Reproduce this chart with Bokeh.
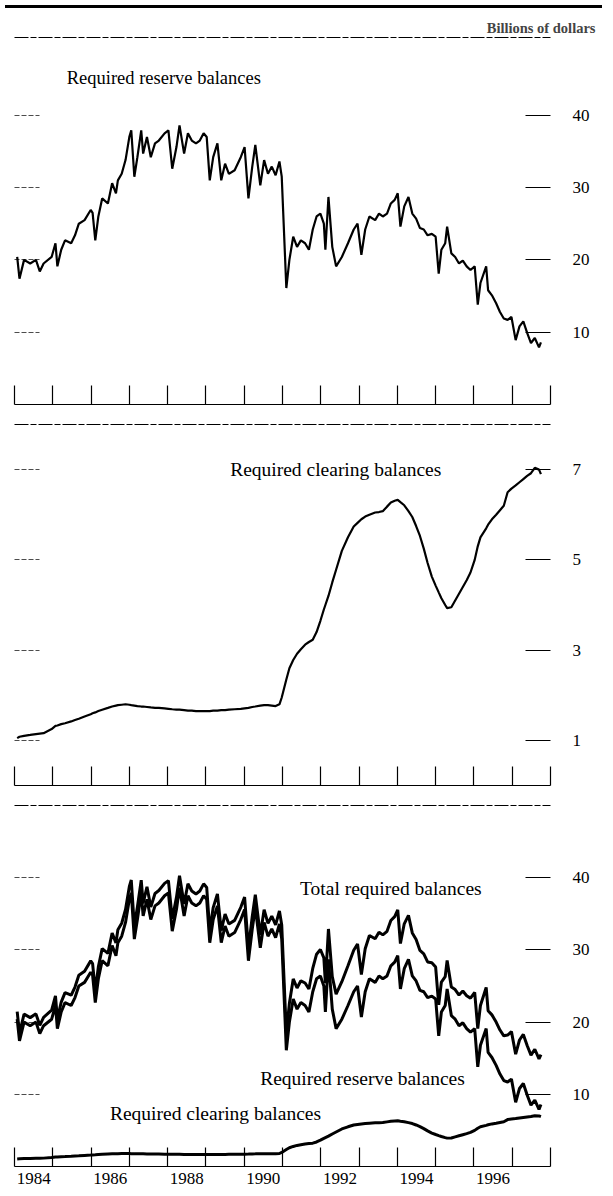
from bokeh.plotting import figure
from bokeh.models import FixedTicker, LinearAxis, Range1d, Div, Label
from bokeh.layouts import column
from bokeh.embed import file_html
from bokeh.resources import INLINE
import numpy as np

# ---------------- data (billions of dollars) ----------------
DATES = [
    1984.07, 1984.13, 1984.25, 1984.41, 1984.56, 1984.66, 1984.76, 1984.97,
    1985.07, 1985.12, 1985.22, 1985.32, 1985.48, 1985.58, 1985.68, 1985.83, 1985.99,
    1986.04, 1986.11, 1986.19, 1986.29, 1986.44, 1986.55, 1986.65, 1986.70, 1986.80, 1986.90,
    1987.00, 1987.05, 1987.13, 1987.21, 1987.31, 1987.36, 1987.46, 1987.56, 1987.67, 1987.77, 1987.92,
    1988.02, 1988.12, 1988.23, 1988.31, 1988.43, 1988.53, 1988.63, 1988.74, 1988.84, 1988.94,
    1989.02, 1989.10, 1989.19, 1989.30, 1989.40, 1989.50, 1989.60, 1989.75, 1989.91,
    1990.01, 1990.11, 1990.21, 1990.29, 1990.42, 1990.52, 1990.62, 1990.72, 1990.82, 1990.92, 1990.98,
    1991.10, 1991.18, 1991.28, 1991.38, 1991.48, 1991.59, 1991.69, 1991.79, 1991.89, 1991.99,
    1992.08, 1992.12, 1992.20, 1992.30, 1992.40, 1992.55, 1992.71, 1992.86, 1992.96,
    1993.06, 1993.16, 1993.27, 1993.42, 1993.52, 1993.62, 1993.73, 1993.83, 1993.93,
    1994.01, 1994.08, 1994.18, 1994.29, 1994.39, 1994.49, 1994.59, 1994.69, 1994.79, 1994.90,
    1995.00, 1995.08, 1995.15, 1995.25, 1995.30, 1995.41, 1995.51, 1995.61, 1995.71, 1995.81, 1995.91,
    1996.02, 1996.10, 1996.17, 1996.32, 1996.37, 1996.47, 1996.58, 1996.68, 1996.78, 1996.88, 1996.98,
    1997.09, 1997.19, 1997.29, 1997.39, 1997.49, 1997.59, 1997.70, 1997.75,
]
RESERVE = [
    20.4, 17.4, 20.0, 19.5, 20.0, 18.4, 19.5, 20.4,
    22.3, 19.1, 21.4, 22.7, 22.3, 23.4, 25.0, 25.5, 26.9,
    26.5, 22.7, 26.0, 28.5, 27.8, 30.6, 29.2, 31.0, 31.9, 33.8,
    37.0, 37.9, 31.5, 34.2, 37.9, 34.7, 37.0, 34.2, 36.1, 36.5, 37.5,
    37.9, 32.6, 35.6, 38.6, 34.7, 37.5, 36.5, 36.1, 36.5, 37.5,
    37.0, 31.0, 34.2, 36.1, 31.0, 33.3, 31.9, 32.4, 34.2,
    35.6, 28.5, 32.9, 35.9, 30.3, 33.8, 31.9, 32.9, 31.7, 33.6, 31.5,
    16.1, 20.0, 23.2, 21.8, 22.7, 22.3, 21.4, 24.2, 26.0, 26.4,
    25.0, 21.4, 28.7, 21.8, 19.1, 20.4, 22.3, 24.2, 25.0,
    20.7, 24.2, 26.0, 25.5, 26.4, 26.0, 26.4, 27.8, 28.3,
    29.2, 24.6, 27.4, 28.7, 26.4, 25.7, 24.4, 24.2, 23.4, 23.6,
    23.2, 18.1, 21.4, 22.3, 24.6, 20.9, 20.4, 19.5, 19.9, 19.1, 18.6,
    19.1, 13.8, 16.8, 19.1, 15.8, 15.1, 14.0, 12.8, 11.9, 11.7, 12.1,
    8.9, 10.8, 11.5, 9.9, 8.5, 9.2, 7.9, 8.6,
]
CLEARING = [
    1.05, 1.08, 1.10, 1.12, 1.14, 1.15, 1.16, 1.25,
    1.32, 1.33, 1.36, 1.38, 1.42, 1.45, 1.48, 1.53, 1.58,
    1.60, 1.62, 1.65, 1.68, 1.72, 1.75, 1.77, 1.78, 1.79, 1.80,
    1.79, 1.78, 1.77, 1.76, 1.75, 1.75, 1.74, 1.73, 1.72, 1.72, 1.71,
    1.70, 1.69, 1.68, 1.68, 1.67, 1.66, 1.66, 1.65, 1.65, 1.65,
    1.65, 1.65, 1.66, 1.66, 1.67, 1.67, 1.68, 1.69, 1.70,
    1.71, 1.72, 1.74, 1.75, 1.77, 1.78, 1.78, 1.77, 1.76, 1.80, 1.95,
    2.35, 2.60, 2.78, 2.92, 3.02, 3.12, 3.18, 3.23, 3.40, 3.65,
    3.90, 4.00, 4.20, 4.50, 4.78, 5.20, 5.50, 5.74, 5.82,
    5.90, 5.96, 6.00, 6.05, 6.06, 6.08, 6.18, 6.27, 6.31,
    6.33, 6.28, 6.21, 6.08, 5.95, 5.75, 5.53, 5.25, 4.93, 4.63,
    4.43, 4.28, 4.15, 4.00, 3.93, 3.95, 4.10, 4.25, 4.40, 4.55, 4.72,
    5.00, 5.30, 5.50, 5.70, 5.78, 5.90, 6.00, 6.10, 6.20, 6.50, 6.58,
    6.65, 6.72, 6.79, 6.86, 6.92, 7.04, 7.00, 6.90,
]
YEAR_BOUNDS = list(range(1984, 1999))
YEAR_LABELS = ["1984", "1986", "1988", "1990", "1992", "1994", "1996"]
TICKS_BIG = [10, 20, 30, 40]
TICKS_SMALL = [1, 3, 5, 7]

dates = np.array(DATES)
reserve = np.array(RESERVE)
clearing = np.array(CLEARING)
total = reserve + clearing

FONT = "Liberation Serif"
W = 597


def make_fig(height, y_end, btop, bbottom, yticks, show_years):
    p = figure(width=W, height=height, x_range=Range1d(1984, 1998), y_range=Range1d(0, y_end),
               output_backend="svg", toolbar_location=None,
               min_border_left=14, min_border_right=47,
               min_border_top=btop, min_border_bottom=bbottom,
               x_axis_location=None, y_axis_location=None)
    p.outline_line_color = None
    p.xgrid.visible = False
    p.ygrid.visible = False
    p.background_fill_color = "white"
    p.border_fill_color = "white"

    # bottom axis: year-boundary tick marks (minor ticks), labels centred under even years
    if show_years:
        label_pos = [int(s) + 0.5 for s in YEAR_LABELS]
        xa = LinearAxis(ticker=FixedTicker(ticks=label_pos, minor_ticks=YEAR_BOUNDS))
        xa.major_label_overrides = {pos: lab for pos, lab in zip(label_pos, YEAR_LABELS)}
        xa.major_label_text_font = FONT
        xa.major_label_text_font_size = "17px"
        xa.major_label_text_color = "black"
        xa.major_label_standoff = 6
    else:
        xa = LinearAxis(ticker=FixedTicker(ticks=[], minor_ticks=YEAR_BOUNDS))
    xa.axis_line_color = "black"
    xa.axis_line_width = 1.2
    xa.major_tick_line_color = None
    xa.major_tick_out = 0
    xa.minor_tick_in = 19
    xa.minor_tick_out = 0
    xa.minor_tick_line_color = "black"
    xa.minor_tick_line_width = 1.2
    p.add_layout(xa, "below")

    # top separator line
    ta = LinearAxis(ticker=FixedTicker(ticks=[]))
    ta.axis_line_color = "black"
    ta.axis_line_width = 1
    ta.axis_line_dash = "14 2 6 2"
    ta.major_tick_out = 0
    ta.major_tick_line_color = None
    ta.minor_tick_line_color = None
    p.add_layout(ta, "above")

    # right value axis
    ra = LinearAxis(ticker=FixedTicker(ticks=yticks, minor_ticks=[]))
    ra.axis_line_color = None
    ra.major_tick_in = 25
    ra.major_tick_out = 0
    ra.major_tick_line_width = 1
    ra.minor_tick_line_color = None
    ra.major_label_standoff = 22
    ra.major_label_text_font = FONT
    ra.major_label_text_font_size = "17px"
    ra.major_label_text_color = "black"
    p.add_layout(ra, "right")

    # left tick dashes (no labels): minor ticks only
    la = LinearAxis(ticker=FixedTicker(ticks=[], minor_ticks=yticks))
    la.axis_line_color = None
    la.major_tick_line_color = None
    la.major_tick_out = 0
    la.minor_tick_in = 25
    la.minor_tick_out = 0
    la.minor_tick_line_width = 1
    la.minor_tick_line_dash = "5 2"
    la.minor_tick_line_alpha = 0.7
    p.add_layout(la, "left")
    return p


def add_label(p, text, x, y, size="19.5px"):
    p.add_layout(Label(x=x, y=y, text=text, text_align="center", text_baseline="middle",
                       text_font=FONT, text_font_size=size, text_color="black"))


rule = Div(text="", width=W, height=3, styles={"background-color": "black"})

# Panel 1: required reserve balances
p1 = make_fig(401, 50.75, 24, 10, TICKS_BIG, False)
p1.title.text = "Billions of dollars"
p1.title.align = "right"
p1.title.offset = -45
p1.title.standoff = 4
p1.title.text_font = FONT
p1.title.text_font_size = "14.5px"
p1.title.text_font_style = "bold"
p1.line(dates, reserve, line_color="black", line_width=2.2)
add_label(p1, "Required reserve balances", 1987.9, 45.2, size="18.5px")

# Panel 2: required clearing balances
p2 = make_fig(381, 8, 10, 10, TICKS_SMALL, False)
p2.line(dates, clearing, line_color="black", line_width=2.2)
add_label(p2, "Required clearing balances", 1992.39, 7.0)

# Panel 3: total, reserve and clearing
p3 = make_fig(394, 50, 10, 23, TICKS_BIG, True)
p3.line(dates, total, line_color="black", line_width=3)
p3.line(dates, reserve, line_color="black", line_width=3)
p3.line(dates, clearing, line_color="black", line_width=3)
add_label(p3, "Total required balances", 1993.83, 38.5)
add_label(p3, "Required reserve balances", 1993.09, 12.2)
add_label(p3, "Required clearing balances", 1989.25, 7.3)

layout = column(rule, p1, p2, p3, spacing=0)
open("out.html", "w").write(file_html(layout, INLINE))
